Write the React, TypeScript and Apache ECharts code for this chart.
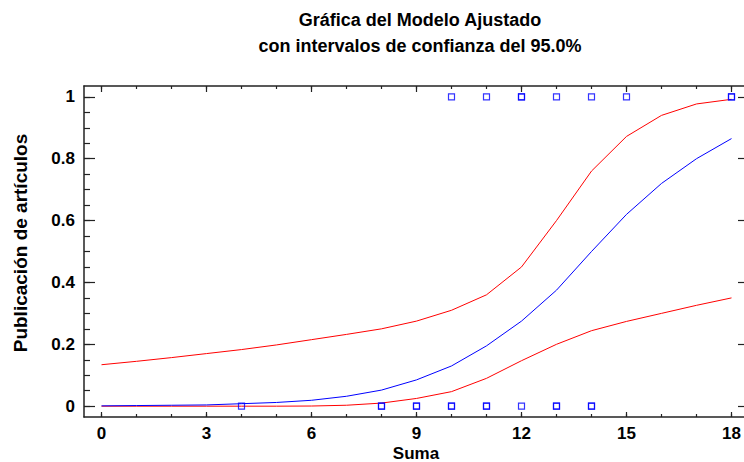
import React, { useEffect, useRef } from "react";
import * as echarts from "echarts";

// Curve sample positions (Suma)
const curveX = [0, 1, 2, 3, 4, 5, 6, 7, 8, 9, 10, 11, 12, 13, 14, 15, 16, 17, 18];
// Fitted model
const fitted = [0.001, 0.002, 0.003, 0.004, 0.008, 0.012, 0.019, 0.032, 0.052, 0.085, 0.13, 0.195, 0.275, 0.375, 0.5, 0.62, 0.72, 0.8, 0.865];
// Upper 95% confidence limit
const upper = [0.134, 0.145, 0.157, 0.17, 0.183, 0.198, 0.215, 0.232, 0.25, 0.275, 0.31, 0.36, 0.45, 0.6, 0.76, 0.872, 0.94, 0.977, 0.992];
// Lower 95% confidence limit
const lower = [0.0, 0.0, 0.0, 0.0, 0.0, 0.0, 0.0005, 0.003, 0.01, 0.025, 0.047, 0.09, 0.147, 0.2, 0.244, 0.274, 0.3, 0.326, 0.35];

// Observed data (Suma, Publicación)
const obsX = [10, 11, 12, 12, 13, 14, 15, 18, 18, 4, 8, 8, 9, 9, 10, 10, 11, 11, 12, 13, 13, 14, 14];
const obsY = [1, 1, 1, 1, 1, 1, 1, 1, 1, 0, 0, 0, 0, 0, 0, 0, 0, 0, 0, 0, 0, 0, 0];

const xMajor = [0, 3, 6, 9, 12, 15, 18];
const xMinor = [0, 1, 2, 3, 4, 5, 6, 7, 8, 9, 10, 11, 12, 13, 14, 15, 16, 17, 18];
const yMajor = [0, 0.2, 0.4, 0.6, 0.8, 1];
const yMinor = [0, 0.05, 0.1, 0.15, 0.2, 0.25, 0.3, 0.35, 0.4, 0.45, 0.5, 0.55, 0.6, 0.65, 0.7, 0.75, 0.8, 0.85, 0.9, 0.95, 1];

const titleLine1 = "Gráfica del Modelo Ajustado";
const titleLine2 = "con intervalos de confianza del 95.0%";
const xName = "Suma";
const yName = "Publicación de artículos";

const FONT = "'Liberation Sans', Arial, sans-serif";
const AXIS_COLOR = "#222";

export default function App() {
  const ref = useRef<HTMLDivElement>(null);
  useEffect(() => {
    document.body.style.margin = "0";
    if (!ref.current) return;
    const chart = echarts.init(ref.current, null, { renderer: "svg" });
    const xRange = { min: -0.5, max: 18.5 };
    const yRange = { min: -0.035, max: 1.035 };
    const lbl = { color: "#000", fontFamily: FONT, fontWeight: "bold", fontSize: 17 };
    const axLine = { show: true, lineStyle: { color: AXIS_COLOR, width: 1.5 } };
    const mkX = (position: string, ticks: number[], len: number, showLine: boolean, labels: boolean) => ({
      type: "value",
      position,
      ...xRange,
      axisLine: showLine ? { ...axLine, onZero: false } : { show: false, onZero: false },
      axisTick: { show: true, inside: true, length: len, customValues: ticks, lineStyle: { color: AXIS_COLOR, width: 1.2 } },
      axisLabel: labels ? { show: true, customValues: ticks, margin: 8, ...lbl } : { show: false },
      splitLine: { show: false },
    });
    const mkY = (position: string, ticks: number[], len: number, showLine: boolean, labels: boolean) => ({
      type: "value",
      position,
      ...yRange,
      axisLine: showLine ? { ...axLine, onZero: false } : { show: false, onZero: false },
      axisTick: { show: true, inside: true, length: len, customValues: ticks, lineStyle: { color: AXIS_COLOR, width: 1.2 } },
      axisLabel: labels ? { show: true, customValues: ticks, margin: 9, ...lbl } : { show: false },
      splitLine: { show: false },
    });
    const line = (vals: number[], color: string) => ({
      type: "line",
      data: curveX.map((x, i) => [x, vals[i]]),
      showSymbol: false,
      symbol: "none",
      lineStyle: { color, width: 1 },
      xAxisIndex: 0,
      yAxisIndex: 0,
      z: 2,
    });
    chart.setOption({
      animation: false,
      grid: { left: 84, width: 665, top: 86, height: 331, containLabel: false, outerBoundsMode: "none" },
      xAxis: [
        mkX("bottom", xMajor, 5, true, true),
        mkX("bottom", xMinor, 3, false, false),
        mkX("top", xMajor, 6, true, false),
        mkX("top", xMinor, 3, false, false),
      ],
      yAxis: [
        mkY("left", yMajor, 11, true, true),
        mkY("left", yMinor, 6, false, false),
        mkY("right", yMajor, 11, true, false),
      ],
      graphic: [
        { type: "text", x: 420, y: 20, style: { text: titleLine1, fill: "#000", font: `bold 18px ${FONT}`, align: "center", verticalAlign: "middle" } },
        { type: "text", x: 420, y: 46, style: { text: titleLine2, fill: "#000", font: `bold 18px ${FONT}`, align: "center", verticalAlign: "middle" } },
        { type: "text", x: 416, y: 453, style: { text: xName, fill: "#000", font: `bold 17px ${FONT}`, align: "center", verticalAlign: "middle" } },
        { type: "text", x: 20, y: 243, rotation: Math.PI / 2, style: { text: yName, fill: "#000", font: `bold 19px ${FONT}`, align: "center", verticalAlign: "middle" } },
      ],
      series: [
        line(upper, "#ff0000"),
        line(lower, "#ff0000"),
        line(fitted, "#0000ff"),
        {
          type: "scatter",
          data: obsX.map((x, i) => [x, obsY[i]]),
          symbol: "rect",
          symbolSize: 6,
          itemStyle: { color: "rgba(0,0,0,0)", borderColor: "#0000ff", borderWidth: 1.2 },
          xAxisIndex: 0,
          yAxisIndex: 0,
          z: 3,
        },
      ],
    });
    return () => chart.dispose();
  }, []);
  return <div ref={ref} style={{ width: 744, height: 462, position: "absolute", left: 0, top: 0 }} />;
}
